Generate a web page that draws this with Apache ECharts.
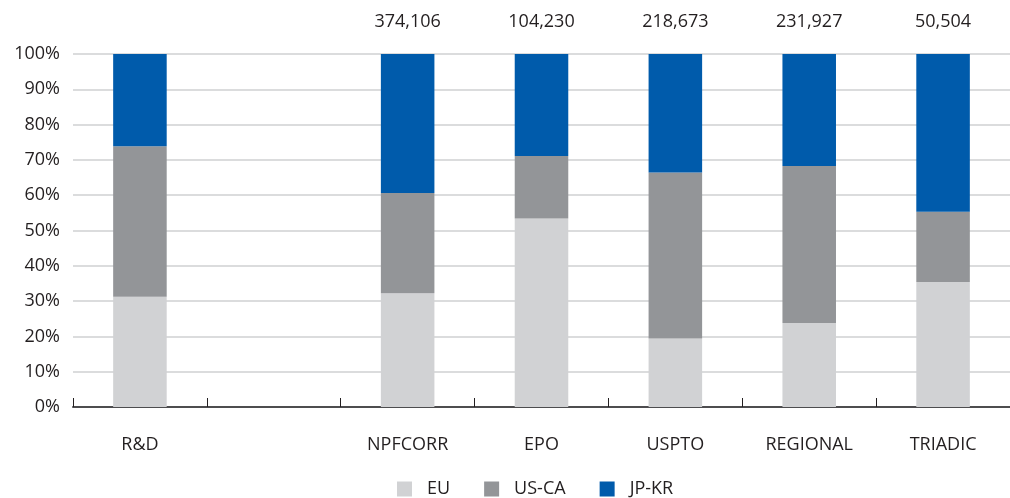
<!DOCTYPE html>
<html><head><meta charset="utf-8">
<script src="https://cdn.jsdelivr.net/npm/echarts@6/dist/echarts.min.js"></script>
<style>html,body{margin:0;padding:0;background:#fff}#c{width:1010px;height:498px}</style>
</head><body><div id="c"></div>
<script>
const categories = ['R&D', '', 'NPFCORR', 'EPO', 'USPTO', 'REGIONAL', 'TRIADIC'];
const totals = ['', '', '374,106', '104,230', '218,673', '231,927', '50,504'];
const euValues = [31.2, null, 32.2, 53.4, 19.4, 23.8, 35.4];
const usCaValues = [42.7, null, 28.4, 17.7, 47.0, 44.5, 19.9];
const jpKrValues = [26.1, null, 39.4, 28.9, 33.6, 31.7, 44.7];
const yTicks = [0, 10, 20, 30, 40, 50, 60, 70, 80, 90, 100];

const font = 'Open Sans';
const txt = '#231f20';
const fs = 18;
const chart = echarts.init(document.getElementById('c'));
chart.setOption({
  animation: false,
  textStyle: {fontFamily: font},
  grid: {left: 73, right: -3, top: 54, bottom: 91, containLabel: false},
  legend: {
    top: 475, left: 392, itemWidth: 15, itemHeight: 15, itemGap: 34,
    icon: 'rect',
    textStyle: {fontFamily: font, fontSize: fs, color: txt, padding: [0, 0, 0, 10]},
    data: ['EU', 'US-CA', 'JP-KR']
  },
  xAxis: {
    type: 'category', data: categories, boundaryGap: true,
    axisLine: {show: true, lineStyle: {color: '#4d4d4f', width: 2}},
    axisTick: {show: true, inside: true, length: 9, lineStyle: {color: '#231f20', width: 1}},
    axisLabel: {color: txt, fontSize: fs, margin: 29, fontFamily: font, interval: 0},
    splitLine: {show: false}
  },
  yAxis: {
    type: 'value', min: 0, max: 100, interval: 10,
    axisLine: {show: false}, axisTick: {show: false},
    axisLabel: {color: txt, fontSize: fs, margin: 13, fontFamily: font,
      formatter: v => yTicks.includes(v) ? v + '%' : ''},
    splitLine: {lineStyle: {color: '#cfd0d2', width: 1.5}}
  },
  series: [
    {name: 'EU', type: 'bar', stack: 's', barWidth: '40%', data: euValues, itemStyle: {color: '#d1d2d4'}},
    {name: 'US-CA', type: 'bar', stack: 's', barWidth: '40%', data: usCaValues, itemStyle: {color: '#939598'}},
    {name: 'JP-KR', type: 'bar', stack: 's', barWidth: '40%', data: jpKrValues, itemStyle: {color: '#005bab'},
      label: {show: true, position: 'top', distance: 23, fontSize: fs, color: txt, fontFamily: font,
        formatter: p => totals[p.dataIndex]}}
  ]
});
</script></body></html>
